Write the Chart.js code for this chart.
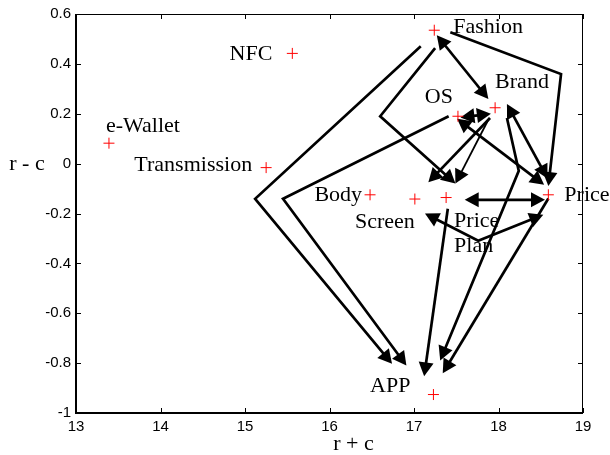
<!DOCTYPE html>
<html>
<head>
<meta charset="utf-8">
<script src="https://cdn.jsdelivr.net/npm/chart.js@4/dist/chart.umd.min.js"></script>
<style>
  html, body { margin: 0; padding: 0; background: #fff; }
  #wrap { width: 610px; height: 455px; }
</style>
</head>
<body>
<div id="wrap"><canvas id="chartCausal"></canvas></div>
<script>
// factors and their (r + c, r - c) position
var factorNames = ['Fashion', 'Brand', 'OS', 'Price', 'Body', 'Screen', 'Price\nPlan', 'APP', 'NFC', 'e-Wallet', 'Transmission'];
var rPlusC  = [17.24, 17.96, 17.52, 18.59, 16.48, 17.01, 17.38, 17.23, 15.56, 13.39, 15.25];
var rMinusC = [0.535, 0.224, 0.19, -0.125, -0.125, -0.142, -0.136, -0.926, 0.442, 0.082, -0.016];

var xTicks = [13, 14, 15, 16, 17, 18, 19];
var yTicks = [-1, -0.8, -0.6, -0.4, -0.2, 0, 0.2, 0.4, 0.6];

// influence arrows, each a path in (r + c, r - c) units
var arrowPaths = [
  [[17.08, 0.471], [15.12, -0.141], [16.74, -0.803]],
  [[17.41, 0.19], [15.45, -0.141], [16.91, -0.81]],
  [[17.25, 0.463], [16.60, 0.19], [17.49, -0.08]],
  [[17.27, 0.515], [17.88, 0.259]],
  [[17.43, 0.527], [18.74, 0.359], [18.59, -0.09]],
  [[17.55, 0.185], [17.91, 0.2]],
  [[17.90, 0.183], [17.17, -0.075]],
  [[17.89, 0.183], [17.49, -0.08]],
  [[18.10, 0.239], [18.58, -0.06]],
  [[17.51, 0.18], [18.54, -0.085]],
  [[17.60, -0.145], [18.55, -0.145]],
  [[17.13, -0.2], [17.76, -0.309], [18.53, -0.205]],
  [[17.40, -0.181], [17.12, -0.853]],
  [[18.10, 0.183], [18.24, -0.029], [17.31, -0.789]],
  [[18.59, -0.14], [17.34, -0.841]]
];
var arrowBoth = [false, false, false, true, false, true, false, false, true, true, true, true, false, false, false];
var arrowThin = [false, false, false, false, false, false, false, true, false, false, false, false, false, false, false];

// label placement (pixels from the marker)
var labelPlace = [
  { align: 'left', dx: 19, dy: -3 },
  { align: 'left', dx: 0, dy: -26 },
  { align: 'right', dx: -5, dy: -19 },
  { align: 'left', dx: 16, dy: 0 },
  { align: 'right', dx: -8, dy: 0 },
  { align: 'right', dx: 0, dy: 23 },
  { align: 'left', dx: 8, dy: 24 },
  { align: 'right', dx: -23, dy: -8 },
  { align: 'right', dx: -20, dy: 1 },
  { align: 'left', dx: -3, dy: -17 },
  { align: 'right', dx: -14, dy: -2 }
];

var serif = '"Liberation Serif", "Times New Roman", serif';
var sans = '"Liberation Sans", Arial, sans-serif';

function arrowHead(ctx, fx, fy, tx, ty) {
  var L = 14, W = 7.5;
  var ang = Math.atan2(ty - fy, tx - fx);
  var c = Math.cos(ang), s = Math.sin(ang);
  ctx.beginPath();
  ctx.moveTo(tx, ty);
  ctx.lineTo(tx - L * c + W * s, ty - L * s - W * c);
  ctx.lineTo(tx - L * c - W * s, ty - L * s + W * c);
  ctx.closePath();
  ctx.fill();
}

var diagramPlugin = {
  id: 'diagram',
  beforeDatasetsDraw: function (chart) {
    var ctx = chart.ctx, xs = chart.scales.x, ys = chart.scales.y;
    ctx.save();
    ctx.strokeStyle = '#000';
    ctx.fillStyle = '#000';
    ctx.lineJoin = 'miter';
    arrowPaths.forEach(function (path, i) {
      var pts = path.map(function (p) { return [xs.getPixelForValue(p[0]), ys.getPixelForValue(p[1])]; });
      var n = pts.length;
      var line = pts.map(function (p) { return p.slice(); });
      // pull line ends back under the heads
      function shorten(a, b) {
        var dx = a[0] - b[0], dy = a[1] - b[1], d = Math.sqrt(dx * dx + dy * dy);
        a[0] -= dx / d * 11; a[1] -= dy / d * 11;
      }
      shorten(line[n - 1], line[n - 2]);
      if (arrowBoth[i]) shorten(line[0], line[1]);
      ctx.lineWidth = arrowThin[i] ? 1.8 : 2.7;
      ctx.beginPath();
      ctx.moveTo(line[0][0], line[0][1]);
      for (var k = 1; k < n; k++) ctx.lineTo(line[k][0], line[k][1]);
      ctx.stroke();
      arrowHead(ctx, pts[n - 2][0], pts[n - 2][1], pts[n - 1][0], pts[n - 1][1]);
      if (arrowBoth[i]) arrowHead(ctx, pts[1][0], pts[1][1], pts[0][0], pts[0][1]);
    });
    ctx.restore();
  },
  afterDatasetsDraw: function (chart) {
    var ctx = chart.ctx, xs = chart.scales.x, ys = chart.scales.y, a = chart.chartArea;
    ctx.save();
    ctx.fillStyle = '#000';
    ctx.font = '22px ' + serif;
    ctx.textBaseline = 'middle';
    factorNames.forEach(function (name, i) {
      var px = xs.getPixelForValue(rPlusC[i]), py = ys.getPixelForValue(rMinusC[i]);
      var pl = labelPlace[i];
      ctx.textAlign = pl.align;
      name.split('\n').forEach(function (line, j) {
        ctx.fillText(line, px + pl.dx, py + pl.dy + j * 25);
      });
    });

    // frame: heavier left/bottom, light top/right
    ctx.strokeStyle = '#000';
    ctx.lineWidth = 1;
    ctx.beginPath();
    ctx.moveTo(a.left, a.top + 0.5);
    ctx.lineTo(a.right - 0.5, a.top + 0.5);
    ctx.lineTo(a.right - 0.5, a.bottom);
    ctx.stroke();
    ctx.lineWidth = 2;
    ctx.beginPath();
    ctx.moveTo(a.left, a.top);
    ctx.lineTo(a.left, a.bottom);
    ctx.lineTo(a.right, a.bottom);
    ctx.stroke();

    // inward tick marks on all four sides
    ctx.lineWidth = 1;
    xTicks.forEach(function (v) {
      var x = Math.round(xs.getPixelForValue(v)) + 0.5;
      ctx.beginPath();
      ctx.moveTo(x, a.bottom); ctx.lineTo(x, a.bottom - 5);
      ctx.moveTo(x, a.top); ctx.lineTo(x, a.top + 5);
      ctx.stroke();
    });
    yTicks.forEach(function (v) {
      var y = Math.round(ys.getPixelForValue(v)) + 0.5;
      ctx.beginPath();
      ctx.moveTo(a.left, y); ctx.lineTo(a.left + 5, y);
      ctx.moveTo(a.right, y); ctx.lineTo(a.right - 5, y);
      ctx.stroke();
    });

    // axis titles
    ctx.font = '22px ' + serif;
    ctx.textAlign = 'center';
    ctx.fillText('r + c', (a.left + a.right) / 2 + 24, 444);
    ctx.fillText('r - c', 27, ys.getPixelForValue(0) + 1);
    ctx.restore();
  }
};

var ctx1 = document.getElementById('chartCausal').getContext('2d');
new Chart(ctx1, {
  type: 'scatter',
  data: {
    datasets: [{
      label: 'factors',
      data: rPlusC.map(function (x, i) { return { x: x, y: rMinusC[i] }; }),
      pointStyle: 'cross',
      pointRadius: 5.5,
      borderColor: '#ff0000',
      backgroundColor: '#ff0000',
      borderWidth: 1,
      showLine: false
    }]
  },
  options: {
    responsive: true,
    maintainAspectRatio: false,
    animation: false,
    layout: { padding: { top: 13, right: 27, left: 0, bottom: 0 } },
    plugins: {
      legend: { display: false },
      tooltip: { enabled: false }
    },
    scales: {
      x: {
        type: 'linear',
        min: 13,
        max: 19,
        afterBuildTicks: function (s) { s.ticks = xTicks.map(function (v) { return { value: v }; }); },
        afterFit: function (s) { s.height = 42; },
        grid: { display: false, drawTicks: false },
        border: { display: false },
        ticks: {
          color: '#000',
          padding: 5,
          maxRotation: 0,
          autoSkip: false,
          font: { family: sans, size: 15 },
          callback: function (v) { return String(v); }
        }
      },
      y: {
        type: 'linear',
        min: -1,
        max: 0.6,
        afterBuildTicks: function (s) { s.ticks = yTicks.map(function (v) { return { value: v }; }); },
        afterFit: function (s) { s.width = 76; },
        grid: { display: false, drawTicks: false },
        border: { display: false },
        ticks: {
          color: '#000',
          padding: 5,
          autoSkip: false,
          font: { family: sans, size: 15 },
          callback: function (v) { return String(v); }
        }
      }
    }
  },
  plugins: [diagramPlugin]
});
</script>
</body>
</html>
